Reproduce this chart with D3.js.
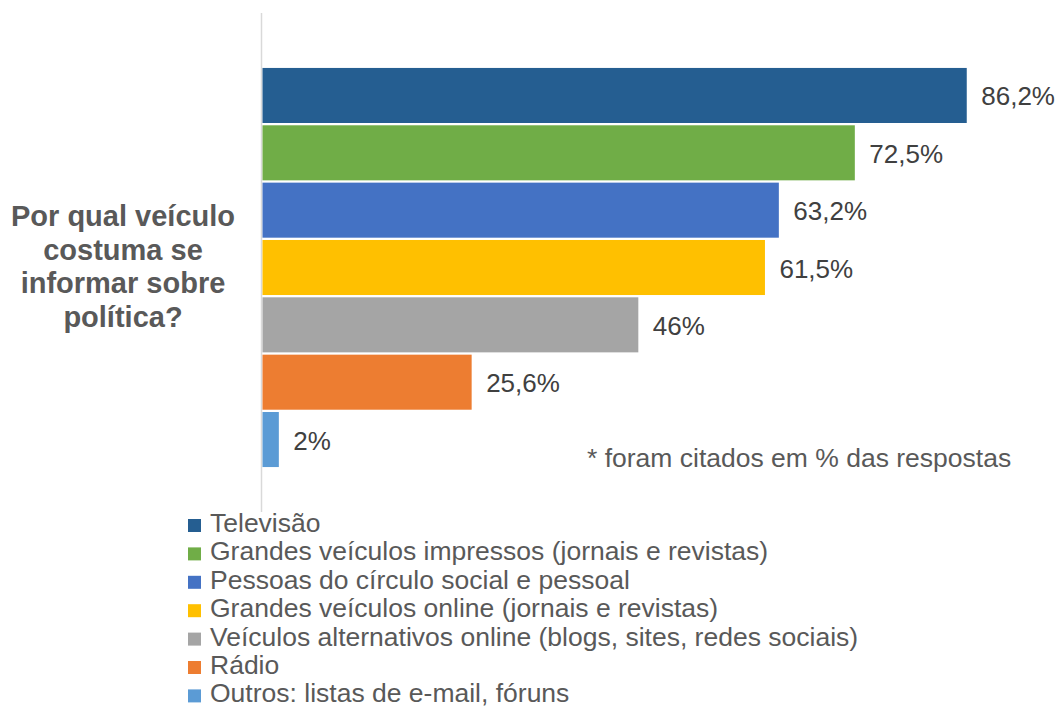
<!DOCTYPE html>
<html>
<head>
<meta charset="utf-8">
<script src="https://cdn.jsdelivr.net/npm/d3@7"></script>
<style>
  html, body { margin: 0; padding: 0; background: #fff; }
  svg { display: block; font-family: "Liberation Sans", Arial, sans-serif; }
</style>
</head>
<body>
<svg id="chart" width="1060" height="708"></svg>
<script>
// Survey: which media outlets respondents use to follow politics (% of answers)
const categories = [
  "Televisão",
  "Grandes veículos impressos (jornais e revistas)",
  "Pessoas do círculo social e pessoal",
  "Grandes veículos online (jornais e revistas)",
  "Veículos alternativos online (blogs, sites, redes sociais)",
  "Rádio",
  "Outros: listas de e-mail, fóruns"
];
const values = [86.2, 72.5, 63.2, 61.5, 46, 25.6, 2];
const valueLabels = ["86,2%", "72,5%", "63,2%", "61,5%", "46%", "25,6%", "2%"];
const colors = ["#255E91", "#70AD47", "#4472C4", "#FFC000", "#A5A5A5", "#ED7D31", "#5B9BD5"];
const titleLines = ["Por qual veículo", "costuma se", "informar sobre", "política?"];
const footnote = "* foram citados em % das respostas";

const svg = d3.select("#chart");

const x = d3.scaleLinear().domain([0, 100]).range([262, 1079]);
const y = d3.scaleBand()
  .domain(categories)
  .range([66.8, 468.2])
  .paddingInner(0.04)
  .paddingOuter(0.02);

// vertical category axis line
svg.append("line")
  .attr("x1", 261.5).attr("x2", 261.5)
  .attr("y1", 13).attr("y2", 512)
  .attr("stroke", "#d9d9d9")
  .attr("stroke-width", 1.5);

// bars
svg.append("g").selectAll("rect")
  .data(categories)
  .join("rect")
  .attr("x", x(0) + 0.5)
  .attr("y", d => y(d))
  .attr("width", (d, i) => x(values[i]) - x(0))
  .attr("height", y.bandwidth())
  .attr("fill", (d, i) => colors[i]);

// value labels
svg.append("g").selectAll("text")
  .data(categories)
  .join("text")
  .attr("x", (d, i) => x(values[i]) + 15)
  .attr("y", d => y(d) + y.bandwidth() / 2 + 10)
  .attr("font-size", 26)
  .attr("fill", "#404040")
  .text((d, i) => valueLabels[i]);

// question title on the left
svg.append("text")
  .attr("text-anchor", "middle")
  .attr("font-size", 29)
  .attr("font-weight", "bold")
  .attr("fill", "#595959")
  .selectAll("tspan")
  .data(titleLines)
  .join("tspan")
  .attr("x", 123)
  .attr("y", (d, i) => 226 + i * 33.7)
  .text(d => d);

// footnote
svg.append("text")
  .attr("x", 587)
  .attr("y", 466.5)
  .attr("font-size", 26.5)
  .attr("fill", "#595959")
  .text(footnote);

// legend
const legend = svg.append("g").selectAll("g")
  .data(categories)
  .join("g")
  .attr("transform", (d, i) => `translate(188, ${532 + i * 28.4})`);

legend.append("rect")
  .attr("x", 0).attr("y", -13)
  .attr("width", 13).attr("height", 13)
  .attr("fill", (d, i) => colors[i]);

legend.append("text")
  .attr("x", 22)
  .attr("y", 0)
  .attr("font-size", 26.5)
  .attr("fill", "#595959")
  .text(d => d);
</script>
</body>
</html>
